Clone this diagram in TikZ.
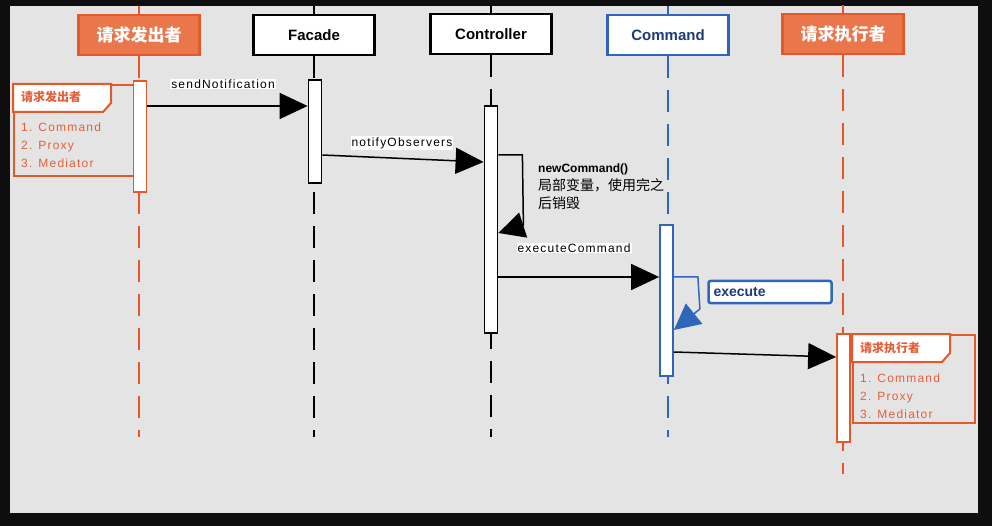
\documentclass[tikz,border=0pt]{standalone}
\usepackage{fontspec}
\setmainfont{Liberation Sans}
\newfontfamily\cjk{Noto Sans CJK SC}
\newfontfamily\spaced[LetterSpace=10]{Liberation Sans}
\usetikzlibrary{arrows.meta,positioning}

\definecolor{reqfill}{HTML}{EA774C}
\definecolor{reqline}{HTML}{E5582B}
\definecolor{reqtext}{HTML}{E2603A}
\definecolor{cmdblue}{HTML}{2F66BC}
\definecolor{cmdtext}{HTML}{1F3A78}
\definecolor{paper}{HTML}{E4E4E4}
\definecolor{frame}{HTML}{0E0E0E}

\begin{document}
\begin{tikzpicture}[x=1pt, y=-1pt,
    head/.style={draw, line width=2.5pt, fill=white, minimum width=121pt,
        minimum height=40pt, inner sep=0pt, font=\bfseries\fontsize{15}{15}\selectfont},
    reqhead/.style={head, draw=reqline, fill=reqfill, text=white,
        font=\cjk\bfseries\fontsize{17}{17}\selectfont},
    life/.style={line width=1.8pt, dash pattern=on 22pt off 12pt},
    bar/.style={draw, line width=1.8pt, fill=white, minimum width=13pt,
        inner sep=0pt, anchor=north},
    msg/.style={line width=1.5pt, -{Triangle[length=28pt, width=26pt]}},
    lbl/.style={fill=white, inner sep=1pt, font=\spaced\fontsize{12}{12}\selectfont},
    notebox/.style={draw=reqline, line width=2pt, anchor=north west, inner sep=0pt},
    notetext/.style={anchor=base west, text=reqtext, inner sep=0pt,
        font=\spaced\fontsize{12}{12}\selectfont}
]
    % frame and paper
    \fill [frame] (0,0) rectangle (992,526);
    \fill [paper] (10,6) rectangle (978,513);

    % participants
    \node [reqhead] (hd1) at (139,35) {请求发出者};
    \node [head] (hd2) at (314,35) {Facade};
    \node [head] (hd3) at (491,34) {Controller};
    \node [head, draw=cmdblue, text=cmdtext] (hd4) at (668,35) {Command};
    \node [reqhead] (hd5) at (843,34) {请求执行者};

    % lifelines
    \draw [reqline, line width=1.8pt] (hd1.north) -- ++(0,-8);
    \draw [line width=1.8pt] (hd2.north) -- ++(0,-8);
    \draw [line width=1.8pt] (hd3.north) -- ++(0,-8);
    \draw [cmdblue, line width=1.8pt] (hd4.north) -- ++(0,-8);
    \draw [reqline, line width=1.8pt] (hd5.north) -- ++(0,-8);
    \draw [life, reqline] (hd1.south) -- (hd1.south |- 0,437);
    \draw [life] (hd2.south) -- (hd2.south |- 0,437);
    \draw [life] (hd3.south) -- (hd3.south |- 0,437);
    \draw [life, cmdblue] (hd4.south) -- (hd4.south |- 0,437);
    \draw [life, reqline] (hd5.south) -- (hd5.south |- 0,474);

    % note of the sender
    \node [notebox, minimum width=120pt, minimum height=91pt] (n1) at (13,84) {};
    \draw [reqline, line width=2pt, fill=white] (n1.north west) -- ++(98,0) -- ++(0,19)
        -- ++(-8,9) -- (n1.west |- 0,112) -- cycle;
    \node [notetext, font=\cjk\bfseries\fontsize{12}{12}\selectfont] (n1t) at (21,102) {请求发出者};
    \node [notetext] (n1a) at (21,131.5) {1. Command};
    \node [notetext] (n1b) at (21,149.5) {2. Proxy};
    \node [notetext] (n1c) at (21,167.5) {3. Mediator};

    % note of the receiver
    \node [notebox, minimum width=122pt, minimum height=88pt] (n2) at (852,334) {};
    \draw [reqline, line width=2pt, fill=white] (n2.north west) -- ++(98,0) -- ++(0,19)
        -- ++(-8,9) -- (n2.west |- 0,362) -- cycle;
    \node [notetext, font=\cjk\bfseries\fontsize{12}{12}\selectfont] (n2t) at (860,352) {请求执行者};
    \node [notetext] (n2a) at (860,382.5) {1. Command};
    \node [notetext] (n2b) at (860,400.5) {2. Proxy};
    \node [notetext] (n2c) at (860,418.5) {3. Mediator};

    % activations
    \node [bar, draw=reqline, minimum height=111pt] (b1) at (140,80) {};
    \node [bar, minimum height=103pt] (b2) at (315,79) {};
    \node [bar, minimum height=227pt] (b3) at (491,105) {};
    \node [bar, draw=cmdblue, minimum height=151pt] (b4) at (666.5,224) {};
    \node [bar, draw=reqline, minimum height=108pt] (b5) at (843.5,333) {};

    % messages
    \draw [msg] (b1.east |- 0,106) -- (b2.west |- 0,106);
    \node [lbl] (l1) at (223,84) {sendNotification};
    \draw [msg] (b2.east |- 0,155) -- (b3.west |- 0,162);
    \node [lbl] (l2) at (402,143) {notifyObservers};
    \draw [msg, -{Triangle[length=26pt, width=26pt]}] (b3.east |- 0,155) -- ++(24,0)
        -- ++(1,70) -- (b3.east |- 0,233);
    \node [anchor=north west, align=left, inner sep=0pt,
        font=\cjk\fontsize{14}{18}\selectfont] (l3) at (538,164)
        {{\rmfamily\bfseries\fontsize{12}{18}\selectfont newCommand()}\\
         局部变量，使用完之\\
         后销毁};
    \draw [msg] (b3.east |- 0,277) -- (b4.west |- 0,277);
    \node [lbl] (l4) at (574,248) {executeCommand};
    \draw [msg, cmdblue, -{Triangle[length=26pt, width=26pt]}] (b4.east |- 0,277)
        -- ++(24,0) -- ++(2,32) -- (b4.east |- 0,330);
    \node [draw=cmdblue, line width=2.5pt, fill=white, rounded corners=2pt,
        text width=113pt, minimum height=22pt, inner xsep=5pt, text=cmdtext,
        font=\bfseries\fontsize{14}{14}\selectfont] (l5) at (770,292) {execute};
    \draw [msg] (b4.east |- 0,352) -- (b5.west |- 0,357);
\end{tikzpicture}
\end{document}
